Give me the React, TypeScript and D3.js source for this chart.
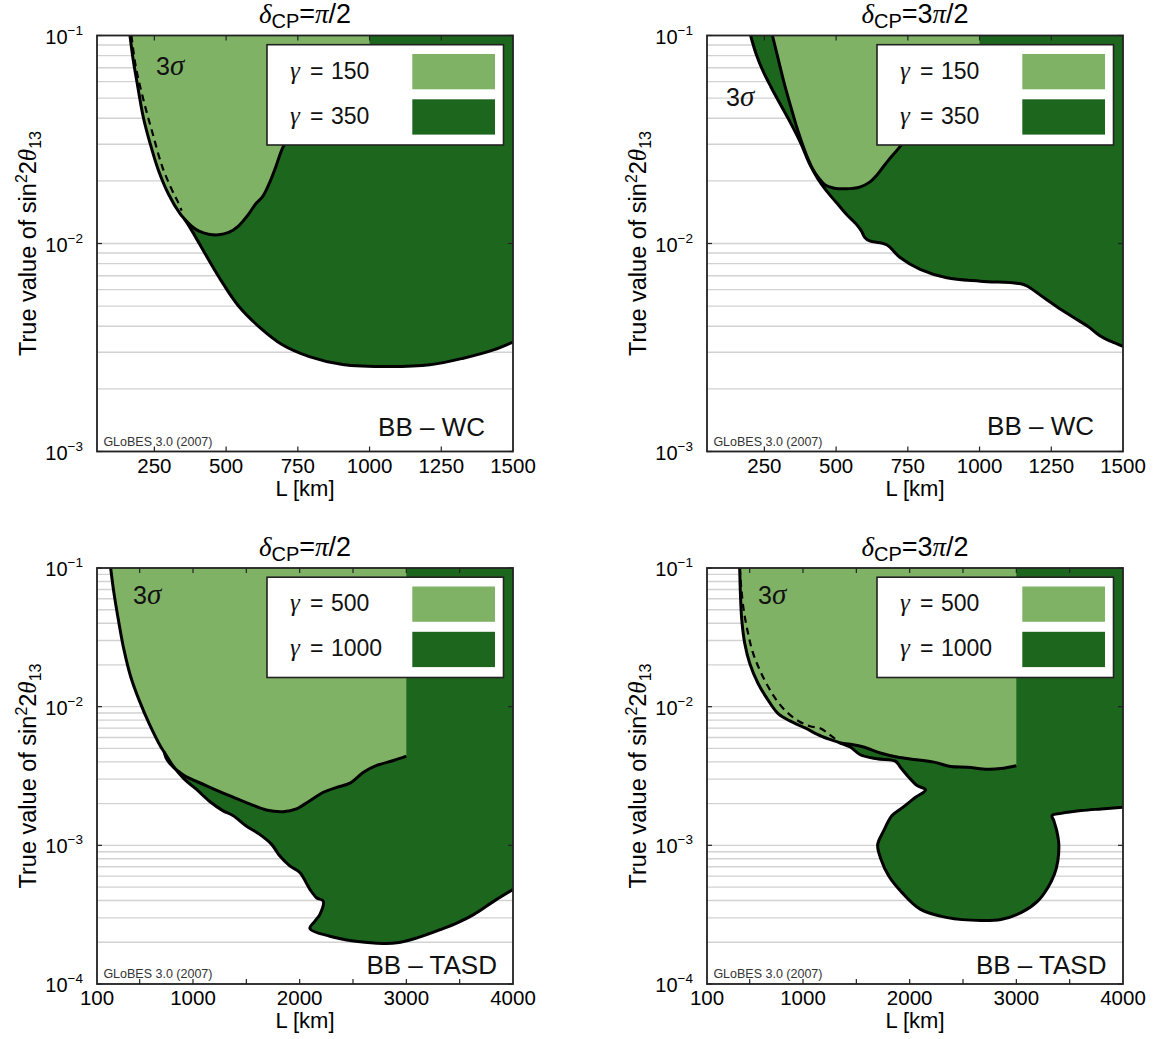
import React from 'react';
import * as d3 from 'd3';

type Pt = [number, number];

const LIGHT = '#80b266';
const DARK = '#1d661e';
const SANS = "'Liberation Sans', Arial, Helvetica, sans-serif";
const SERIF = "'Liberation Serif', 'Times New Roman', serif";

// ---------- BB - WC, deltaCP = pi/2 ----------
// gamma = 350 contour (outer boundary of the dark region)
const wcHalfPiG350: Pt[] = [
  [165, 0.1], [176, 0.0766], [192, 0.0569], [211, 0.0407], [235, 0.0303], [264, 0.0225],
  [299, 0.0173], [340, 0.01387], [355, 0.0131], [381, 0.0115], [428, 0.00887], [480, 0.00672],
  [544, 0.00499], [620, 0.00392], [696, 0.00326], [790, 0.00286], [906, 0.00262],
  [1070, 0.00256], [1210, 0.00261], [1327, 0.00281], [1432, 0.00308], [1500, 0.00336],
];
// gamma = 150 contour, from where it leaves the gamma = 350 curve up to the 1000 km edge
const wcHalfPiG150: Pt[] = [
  [355, 0.0131], [383, 0.012], [404, 0.0115], [439, 0.01109], [474, 0.01101], [509, 0.0113],
  [544, 0.01217], [579, 0.01387], [603, 0.01549], [626, 0.0167], [650, 0.01938], [673, 0.02333],
  [696, 0.02858], [743, 0.03776], [836, 0.0569], [930, 0.0738], [1000, 0.0856],
];
const wcHalfPiDashed: Pt[] = [
  [170, 0.1], [185, 0.0711], [212, 0.049], [244, 0.0338], [278, 0.0233], [312, 0.018],
  [330, 0.01607], [345, 0.0144],
];

// ---------- BB - WC, deltaCP = 3pi/2 ----------
const wc3HalfPiG350: Pt[] = [
  [202, 0.1], [220, 0.0824], [243, 0.0685], [272, 0.0569], [307, 0.0463], [342, 0.0378],
  [377, 0.0303], [407, 0.0242], [436, 0.0205], [465, 0.018], [500, 0.01578], [535, 0.01387],
  [570, 0.0124], [588, 0.0115], [600, 0.0107], [617, 0.0103], [676, 0.00986], [723, 0.00856],
  [793, 0.00751], [886, 0.00684], [1003, 0.00659], [1144, 0.0064], [1167, 0.00623],
  [1225, 0.00548], [1284, 0.00481], [1331, 0.00438], [1377, 0.004], [1424, 0.00357],
  [1459, 0.00338], [1500, 0.0032],
];
const wc3HalfPiG150: Pt[] = [
  [278, 0.1], [296, 0.0794], [319, 0.059], [342, 0.0455], [366, 0.0351], [395, 0.027],
  [418, 0.0229], [440, 0.0206], [465, 0.019], [494, 0.01845], [535, 0.01832], [582, 0.01866],
  [617, 0.01973], [646, 0.02163], [664, 0.02333], [682, 0.0251], [717, 0.02858], [804, 0.0407],
  [910, 0.0612], [1000, 0.0824],
];

// ---------- BB - TASD, deltaCP = pi/2 ----------
const tasdHalfPiG1000: Pt[] = [
  [228, 0.1], [259, 0.0659], [306, 0.04], [353, 0.02565], [416, 0.01644], [495, 0.01114],
  [589, 0.00755], [699, 0.00512], [730, 0.0047], [809, 0.00377], [919, 0.003], [1028, 0.00255],
  [1154, 0.00208], [1279, 0.00178], [1374, 0.00164], [1499, 0.00138], [1625, 0.0012],
  [1735, 0.00102], [1813, 0.00084], [1907, 0.00071], [2001, 0.000637], [2096, 0.000482],
  [2158, 0.000419], [2221, 0.000396], [2190, 0.000318], [2143, 0.000284], [2096, 0.000251],
  [2284, 0.000221], [2504, 0.000204], [2723, 0.000197], [2912, 0.000198], [3100, 0.000215],
  [3320, 0.000247], [3477, 0.000276], [3634, 0.000318], [3822, 0.000396], [4000, 0.00048],
];
const tasdHalfPiG500: Pt[] = [
  [730, 0.0047], [761, 0.00409], [903, 0.00324], [1122, 0.0027], [1342, 0.00228],
  [1530, 0.00199], [1687, 0.0018], [1844, 0.00175], [1970, 0.00183], [2096, 0.0021],
  [2221, 0.00241], [2347, 0.00262], [2472, 0.00281], [2598, 0.00337], [2723, 0.00377],
  [2880, 0.00409], [3000, 0.0044],
];

// ---------- BB - TASD, deltaCP = 3pi/2 ----------
const tasd3HalfPiG1000: Pt[] = [
  [407, 0.1], [413, 0.0659], [426, 0.0423], [454, 0.0286], [501, 0.0205], [579, 0.0147],
  [673, 0.01114], [767, 0.00891], [877, 0.00789], [1019, 0.00702], [1176, 0.00611],
  [1348, 0.00547], [1443, 0.00512], [1537, 0.0045], [1694, 0.00421], [1866, 0.00405],
  [1913, 0.00366], [1992, 0.0031], [2070, 0.0027], [2149, 0.00251], [2055, 0.00222],
  [1945, 0.0019], [1835, 0.00164], [1756, 0.00127], [1700, 0.00101], [1731, 0.000794],
  [1804, 0.000601], [1929, 0.000456], [2102, 0.000345], [2353, 0.000301], [2667, 0.000287],
  [2855, 0.000292], [3044, 0.000327], [3200, 0.000396], [3295, 0.000495], [3357, 0.000618],
  [3389, 0.000772], [3398, 0.00102], [3379, 0.00127], [3351, 0.00151], [3335, 0.00164],
  [3420, 0.0017], [3608, 0.00178], [3797, 0.00183], [4000, 0.00188],
];
const tasd3HalfPiG500: Pt[] = [
  [1348, 0.00547], [1443, 0.00535], [1568, 0.00512], [1725, 0.00463], [1882, 0.00433],
  [2039, 0.00416], [2227, 0.00398], [2384, 0.0037], [2541, 0.00366], [2730, 0.00354],
  [2855, 0.00358], [3000, 0.00375],
];
const tasd3HalfPiDashed: Pt[] = [
  [407, 0.1], [420, 0.0736], [444, 0.0499], [485, 0.0338], [532, 0.0243], [595, 0.01837],
  [674, 0.0139], [752, 0.01114], [846, 0.00917], [956, 0.00789], [1066, 0.00722],
  [1160, 0.00698], [1239, 0.00638], [1301, 0.00587],
];

const wcGammas = ['150', '350'];
const tasdGammas = ['500', '1000'];
const wcXTicks = [250, 500, 750, 1000, 1250, 1500];
const wcXTickMarks = [250, 500, 750, 1000, 1250];
const tasdXTicks = [100, 1000, 2000, 3000, 4000];
const tasdXTickMarks = [500, 1000, 1500, 2000, 2500, 3000, 3500];

const W = 1157;
const H = 1039;
const PW = 416;
const PH = 416;

interface Spec {
  id: string;
  x0: number;
  y0: number;
  xDomain: [number, number];
  yDomain: [number, number];
  xTicks: number[];
  xTickMarks: number[];
  outer: Pt[];
  inner: Pt[];
  innerFromTop: boolean;
  cutL: number;
  dashed?: Pt[];
  phase: string;
  gammas: string[];
  detector: string;
  detX: number;
  detY: number;
  sigmaX: number;
  sigmaY: number;
}

const specs: Spec[] = [
  {
    id: 'a', x0: 97, y0: 35.5, xDomain: [50, 1500], yDomain: [1e-3, 1e-1],
    xTicks: wcXTicks, xTickMarks: wcXTickMarks, outer: wcHalfPiG350, inner: wcHalfPiG150,
    innerFromTop: false, cutL: 1000, dashed: wcHalfPiDashed, phase: '', gammas: wcGammas,
    detector: 'BB – WC', detX: 388, detY: 400, sigmaX: 59, sigmaY: 39,
  },
  {
    id: 'b', x0: 707, y0: 35.5, xDomain: [50, 1500], yDomain: [1e-3, 1e-1],
    xTicks: wcXTicks, xTickMarks: wcXTickMarks, outer: wc3HalfPiG350, inner: wc3HalfPiG150,
    innerFromTop: true, cutL: 1000, phase: '3', gammas: wcGammas,
    detector: 'BB – WC', detX: 387, detY: 399.5, sigmaX: 19, sigmaY: 70,
  },
  {
    id: 'c', x0: 97, y0: 568, xDomain: [100, 4000], yDomain: [1e-4, 1e-1],
    xTicks: tasdXTicks, xTickMarks: tasdXTickMarks, outer: tasdHalfPiG1000, inner: tasdHalfPiG500,
    innerFromTop: false, cutL: 3000, phase: '', gammas: tasdGammas,
    detector: 'BB – TASD', detX: 400, detY: 405.5, sigmaX: 36, sigmaY: 35.5,
  },
  {
    id: 'd', x0: 707, y0: 568, xDomain: [100, 4000], yDomain: [1e-4, 1e-1],
    xTicks: tasdXTicks, xTickMarks: tasdXTickMarks, outer: tasd3HalfPiG1000, inner: tasd3HalfPiG500,
    innerFromTop: false, cutL: 3000, dashed: tasd3HalfPiDashed, phase: '3', gammas: tasdGammas,
    detector: 'BB – TASD', detX: 399.5, detY: 405.5, sigmaX: 51, sigmaY: 35.5,
  },
];

function Panel({ s }: { s: Spec }) {
  const x = d3.scaleLinear().domain(s.xDomain).range([s.x0, s.x0 + PW]);
  const y = d3.scaleLog().domain(s.yDomain).range([s.y0 + PH, s.y0]);
  const line = d3
    .line<Pt>()
    .x((d) => x(d[0]))
    .y((d) => y(d[1]))
    .curve(d3.curveCatmullRom.alpha(0.5));

  const yTop = s.yDomain[1];
  const xRight = s.xDomain[1];

  // dark region: everything above the outer contour
  const darkD = `${line(s.outer)}L${x(xRight) + 3},${y(s.outer[s.outer.length - 1][1])}L${x(xRight) + 3},${y(yTop) - 3}L${x(s.outer[0][0])},${y(yTop) - 3}Z`;

  // light region: bounded by the outer contour down to the branching point, then its own contour
  let lightPts: Pt[];
  if (s.innerFromTop) {
    lightPts = s.inner;
  } else {
    const j = s.outer.findIndex((p) => p[0] === s.inner[0][0] && p[1] === s.inner[0][1]);
    lightPts = s.outer.slice(0, j).concat(s.inner);
  }
  const lightD = `${line(lightPts)}L${x(s.cutL)},${y(yTop) - 3}L${x(lightPts[0][0])},${y(yTop) - 3}Z`;

  // horizontal grid at every 1..9 x 10^k
  const lo = Math.round(Math.log10(s.yDomain[0]));
  const hi = Math.round(Math.log10(s.yDomain[1]));
  const grid: number[] = [];
  for (let e = lo; e < hi; e++) for (let k = 1; k <= 9; k++) grid.push(k * Math.pow(10, e));
  const decades: number[] = [];
  for (let e = lo; e <= hi; e++) decades.push(e);

  const cx = s.x0 + PW / 2;
  const cy = s.y0 + PH / 2;
  const tick = 5;

  return (
    <g>
      <defs>
        <clipPath id={`clip-${s.id}`}>
          <rect x={s.x0} y={s.y0} width={PW} height={PH} />
        </clipPath>
      </defs>

      {/* title */}
      <text x={cx} y={s.y0 - 12.5} textAnchor="middle" fontFamily={SANS} fontSize={27} fill="#000">
        <tspan fontFamily={SERIF} fontStyle="italic">δ</tspan>
        <tspan fontSize={20} dy={5}>CP</tspan>
        <tspan dy={-5}>{'=' + s.phase}</tspan>
        <tspan fontFamily={SERIF} fontStyle="italic">π</tspan>
        <tspan>/2</tspan>
      </text>

      <rect x={s.x0} y={s.y0} width={PW} height={PH} fill="#fff" />

      <g clipPath={`url(#clip-${s.id})`}>
        {grid.map((v) => (
          <line key={v} x1={s.x0} x2={s.x0 + PW} y1={y(v)} y2={y(v)} stroke="#d2d2d2" strokeWidth={1.4} />
        ))}
        <path d={darkD} fill={DARK} />
        <path d={lightD} fill={LIGHT} />
        <path d={line(s.outer) ?? ''} fill="none" stroke="#000" strokeWidth={3} strokeLinejoin="round" />
        <path d={line(s.inner) ?? ''} fill="none" stroke="#000" strokeWidth={3} strokeLinejoin="round" />
        {s.dashed && (
          <path d={line(s.dashed) ?? ''} fill="none" stroke="#000" strokeWidth={2.2} strokeDasharray="7,5" />
        )}
      </g>

      {/* tick marks */}
      {s.xTickMarks.map((t) => (
        <g key={`xt${t}`}>
          <line x1={x(t)} x2={x(t)} y1={s.y0 + PH} y2={s.y0 + PH - tick} stroke="#222" strokeWidth={1.2} />
          <line x1={x(t)} x2={x(t)} y1={s.y0} y2={s.y0 + tick} stroke="#222" strokeWidth={1.2} />
        </g>
      ))}
      {decades.map((e) => (
        <g key={`yt${e}`}>
          <line x1={s.x0} x2={s.x0 + tick} y1={y(Math.pow(10, e))} y2={y(Math.pow(10, e))} stroke="#222" strokeWidth={1.2} />
          <line x1={s.x0 + PW} x2={s.x0 + PW - tick} y1={y(Math.pow(10, e))} y2={y(Math.pow(10, e))} stroke="#222" strokeWidth={1.2} />
        </g>
      ))}

      <rect x={s.x0} y={s.y0} width={PW} height={PH} fill="none" stroke="#222" strokeWidth={1.8} />

      {/* 3 sigma */}
      <text x={s.x0 + s.sigmaX} y={s.y0 + s.sigmaY} fontFamily={SANS} fontSize={25} fill="#111">
        3<tspan fontFamily={SERIF} fontStyle="italic" fontSize={29}>σ</tspan>
      </text>

      {/* legend */}
      <rect x={s.x0 + 170} y={s.y0 + 9.2} width={236.5} height={100.3} fill="#fff" stroke="#222" strokeWidth={1.6} />
      {s.gammas.map((g, i) => (
        <g key={g}>
          <rect x={s.x0 + 315.3} y={s.y0 + 18.5 + i * 45.3} width={82.7} height={35.3} fill={i === 0 ? LIGHT : DARK} />
          <text y={s.y0 + 43 + i * 45} fontSize={23} fill="#111" fontFamily={SANS}>
            <tspan x={s.x0 + 193} fontFamily={SERIF} fontStyle="italic" fontSize={25}>γ</tspan>
            <tspan x={s.x0 + 213}>=</tspan>
            <tspan x={s.x0 + 234}>{g}</tspan>
          </text>
        </g>
      ))}

      {/* detector label and credit */}
      <text x={s.x0 + s.detX} y={s.y0 + s.detY} textAnchor="end" fontFamily={SANS} fontSize={26} fill="#111">
        {s.detector}
      </text>
      <text x={s.x0 + 6.4} y={s.y0 + PH - 6} fontFamily={SANS} fontSize={12.5} fill="#333">
        GLoBES 3.0 (2007)
      </text>

      {/* x tick labels */}
      {s.xTicks.map((t) => (
        <text key={`xl${t}`} x={x(t)} y={s.y0 + PH + 21} textAnchor="middle" fontFamily={SANS} fontSize={20.5} fill="#000">
          {t}
        </text>
      ))}
      <text x={cx} y={s.y0 + PH + 44} textAnchor="middle" fontFamily={SANS} fontSize={22} fill="#000">
        L [km]
      </text>

      {/* y tick labels */}
      {decades.map((e) => (
        <text key={`yl${e}`} x={s.x0 - 14} y={y(Math.pow(10, e)) + 8} textAnchor="end" fontFamily={SANS} fontSize={20} fill="#000">
          10<tspan dy={-9} fontSize={13.5}>{'−' + Math.abs(e)}</tspan>
        </text>
      ))}
      <text
        transform={`translate(${s.x0 - 61},${cy}) rotate(-90)`}
        textAnchor="middle"
        fontFamily={SANS}
        fontSize={23.5}
        fill="#000"
      >
        True value of sin<tspan dy={-9} fontSize={16}>2</tspan>
        <tspan dy={9}>2</tspan>
        <tspan fontFamily={SERIF} fontStyle="italic" fontSize={25}>θ</tspan>
        <tspan dy={5} fontSize={16}>13</tspan>
      </text>
    </g>
  );
}

export default function App() {
  return (
    <svg
      width={W}
      height={H}
      viewBox={`0 0 ${W} ${H}`}
      style={{ position: 'absolute', left: 0, top: 0, background: '#fff' }}
    >
      <rect width={W} height={H} fill="#fff" />
      {specs.map((s) => (
        <Panel key={s.id} s={s} />
      ))}
    </svg>
  );
}
